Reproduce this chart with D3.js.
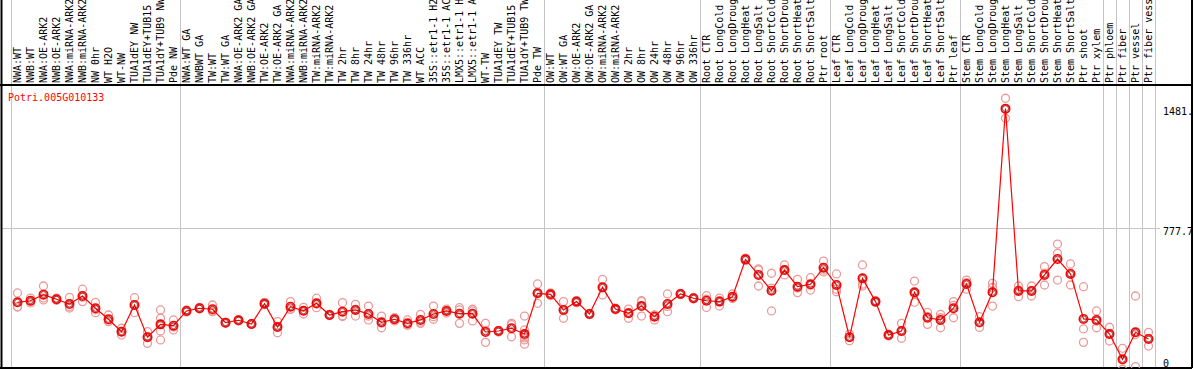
<!DOCTYPE html>
<html>
<head>
<meta charset="utf-8">
<script src="https://cdn.jsdelivr.net/npm/d3@7"></script>
<style>
  body { margin: 0; background: #fff; }
  text { font-family: "DejaVu Sans Mono", monospace; font-size: 10px; }
</style>
</head>
<body>
<script>
var geneName = "Potri.005G010133";

var samples = [
  "NWA:WT", "NWB:WT", "NWA:OE-ARK2", "NWB:OE-ARK2", "NWA:miRNA-ARK2", "NWB:miRNA-ARK2",
  "NW 0hr", "WT H2O", "WT-NW", "TUA1dEY NW", "TUA1dEY+TUB15 NW", "TUA1dY+TUB9 NW", "Pde NW",
  "NWA:WT GA", "NWBWT GA", "TW:WT", "TW:WT GA", "NWA:OE-ARK2 GA", "NWB:OE-ARK2 GA",
  "TW:OE-ARK2", "TW:OE-ARK2 GA", "NWA:miRNA-ARK2 GA", "NWB:miRNA-ARK2 GA", "TW:miRNA-ARK2",
  "TW:miRNA-ARK2 GA", "TW 2hr", "TW 8hr", "TW 24hr", "TW 48hr", "TW 96hr", "TW 336hr",
  "WT ACC", "35S::etr1-1 H2O", "35S::etr1-1 ACC", "LMX5::etr1-1 H2O", "LMX5::etr1-1 ACC",
  "WT-TW", "TUA1dEY TW", "TUA1dEY+TUB15 TW", "TUA1dY+TUB9 TW", "Pde TW",
  "OW:WT", "OW:WT GA", "OW:OE-ARK2", "OW:OE-ARK2 GA", "OW:miRNA-ARK2", "OW:miRNA-ARK2 GA",
  "OW 2hr", "OW 8hr", "OW 24hr", "OW 48hr", "OW 96hr", "OW 336hr",
  "Root CTR", "Root LongCold", "Root LongDrought", "Root LongHeat", "Root LongSalt",
  "Root ShortCold", "Root ShortDrought", "Root ShortHeat", "Root ShortSalt", "Ptr root",
  "Leaf CTR", "Leaf LongCold", "Leaf LongDrought", "Leaf LongHeat", "Leaf LongSalt",
  "Leaf ShortCold", "Leaf ShortDrought", "Leaf ShortHeat", "Leaf ShortSalt", "Ptr leaf",
  "Stem CTR", "Stem LongCold", "Stem LongDrought", "Stem LongHeat", "Stem LongSalt",
  "Stem ShortCold", "Stem ShortDrought", "Stem ShortHeat", "Stem ShortSalt", "Ptr shoot",
  "Ptr xylem", "Ptr phloem", "Ptr fiber", "Ptr vessel", "Ptr fiber vessel"
];

// mean expression per sample
var means = [
  340, 349, 385, 358, 330, 377, 305, 240, 167, 324, 134, 210, 202,
  289, 305, 299, 220, 234, 212, 332, 194, 314, 290, 334, 265, 285, 295, 271,
  222, 240, 216, 236, 271, 289, 273, 273, 165, 171, 187, 153, 393,
  387, 295, 344, 271, 428, 300, 275, 318, 255, 330, 389, 364,
  349, 344, 373, 593, 501, 408, 530, 432, 446, 544,
  442, 134, 481, 344, 147, 171, 399, 249, 236, 305,
  448, 222, 399, 1481, 407, 407, 501, 595, 507, 242, 236,
  153, 4, 163, 124
];

// replicate values per sample
var replicates = [
  [395, 314, 312], [365, 336, 346], [436, 354, 365], [352, 364, 358], [369, 306, 315],
  [417, 344, 370], [340, 279, 296], [265, 226, 229], [187, 147, 167], [367, 279, 326],
  [167, 98, 137], [295, 246, 210, 171, 118], [236, 177, 194],
  [295, 283, 289], [300, 310, 305], [324, 285, 289], [222, 218, 220], [238, 230, 234],
  [214, 210, 212], [340, 326, 330], [226, 161, 195], [344, 300, 298], [310, 271, 290],
  [364, 308, 330], [268, 262, 265], [338, 261, 256], [328, 259, 298], [318, 236, 259],
  [259, 190, 217], [250, 230, 240], [236, 205, 207], [269, 216, 223], [318, 255, 240],
  [300, 277, 290], [308, 216, 295], [299, 230, 290], [216, 104, 175], [175, 165, 173],
  [216, 137, 208], [259, 177, 130, 118, 93, 145], [448, 334, 397],
  [395, 380, 386], [344, 246, 295], [350, 338, 344], [275, 267, 271], [475, 383, 426],
  [305, 296, 300], [300, 246, 279], [349, 259, 346], [265, 236, 264], [389, 285, 316],
  [392, 386, 389], [368, 360, 364],
  [379, 310, 358], [365, 318, 349], [389, 362, 368], [600, 585, 594], [536, 436, 531],
  [511, 289, 424], [560, 501, 529], [475, 397, 424], [485, 412, 441], [583, 530, 519],
  [507, 402, 417], [153, 114, 135], [560, 436, 447], [348, 340, 344], [152, 142, 147],
  [216, 128, 169], [465, 340, 392], [281, 210, 256], [249, 190, 269], [344, 249, 322],
  [471, 417, 456], [255, 192, 219], [452, 318, 427], [1542, 1424, 1477], [436, 373, 412],
  [436, 377, 408], [550, 442, 511], [683, 629, 471], [566, 442, 513], [432, 183, 104],
  [289, 190, 229], [193, 112, 154], [69, -55, 0], [377, -39, 150], [163, 82, 127]
];

// index of first sample in each group
var groupStarts = [0, 13, 41, 53, 63, 73, 84, 85, 86, 87];

var yTicks = [0, 777.7, 1481];
var yTickLabels = ["0", "777.7", "1481."];

var width = 1194, height = 370;
var headerY = 85, bottomY = 368, leftX = 1.5, rightX = 1192;

var svg = d3.select("body").append("svg")
  .attr("width", width)
  .attr("height", height);

var x = d3.scaleBand()
  .domain(d3.range(samples.length))
  .range([11, 1155]);

var y = d3.scaleLinear()
  .domain([0, 1555.4])
  .range([360, 96]);

svg.append("clipPath").attr("id", "plotclip")
  .append("rect")
  .attr("x", leftX).attr("y", headerY)
  .attr("width", rightX - leftX).attr("height", bottomY - headerY);

// grid lines
var grid = svg.append("g").attr("stroke", "#c4c4c4").attr("stroke-width", 1);
grid.selectAll(".vg")
  .data(groupStarts.map(function (i) { return x(i); }).concat([x.range()[1]]))
  .enter().append("line")
  .attr("x1", function (d) { return Math.round(d) + 0.5; })
  .attr("x2", function (d) { return Math.round(d) + 0.5; })
  .attr("y1", 0).attr("y2", bottomY);
grid.append("line")
  .attr("x1", leftX).attr("x2", 1160)
  .attr("y1", Math.round(y(yTicks[1])) + 0.5)
  .attr("y2", Math.round(y(yTicks[1])) + 0.5);

// sample labels (rotated)
svg.append("g").selectAll("text")
  .data(samples)
  .enter().append("text")
  .attr("transform", function (d, i) {
    return "translate(" + (x(i) + x.bandwidth() / 2 + 3.5) + "," + 83 + ") rotate(-90)";
  })
  .attr("fill", "#000")
  .text(function (d) { return d; });

// frame
var frame = svg.append("g").attr("stroke", "#000").attr("stroke-width", 2);
frame.append("line").attr("x1", 0).attr("x2", rightX).attr("y1", headerY).attr("y2", headerY);
frame.append("line").attr("x1", 0).attr("x2", rightX).attr("y1", bottomY).attr("y2", bottomY);
frame.append("line").attr("x1", leftX).attr("x2", leftX).attr("y1", 0).attr("y2", bottomY);
frame.append("line").attr("x1", rightX).attr("x2", rightX).attr("y1", 0).attr("y2", bottomY);

// gene name
svg.append("text")
  .attr("x", 8).attr("y", 101)
  .attr("fill", "#f00")
  .text(geneName);

// y tick labels
svg.append("g").selectAll("text")
  .data(yTicks)
  .enter().append("text")
  .attr("x", 1163)
  .attr("y", function (d) { return y(d) + 3; })
  .attr("dominant-baseline", "central")
  .attr("fill", "#000")
  .text(function (d, i) { return yTickLabels[i]; });

var plot = svg.append("g").attr("clip-path", "url(#plotclip)");
var cx = function (i) { return x(i) + x.bandwidth() / 2; };

// replicates
var repPts = [];
replicates.forEach(function (r, i) {
  r.forEach(function (v) { repPts.push([i, v]); });
});
plot.append("g").selectAll("circle")
  .data(repPts)
  .enter().append("circle")
  .attr("cx", function (d) { return cx(d[0]); })
  .attr("cy", function (d) { return y(d[1]); })
  .attr("r", 4)
  .attr("fill", "none")
  .attr("stroke", "#eb9a9a")
  .attr("stroke-width", 1.3);

// mean line
plot.append("path")
  .datum(means)
  .attr("fill", "none")
  .attr("stroke", "#f00")
  .attr("stroke-width", 1.2)
  .attr("d", d3.line()
    .x(function (d, i) { return cx(i); })
    .y(function (d) { return y(d); }));

// mean markers
var mk = plot.append("g").selectAll("g")
  .data(means)
  .enter().append("g")
  .attr("transform", function (d, i) { return "translate(" + cx(i) + "," + y(d) + ")"; });
mk.append("circle")
  .attr("r", 4.2)
  .attr("fill", "none")
  .attr("stroke", "#f00")
  .attr("stroke-width", 1.6);
mk.append("circle")
  .attr("r", 3)
  .attr("fill", "none")
  .attr("stroke", "#700")
  .attr("stroke-width", 0.7);
</script>
</body>
</html>
